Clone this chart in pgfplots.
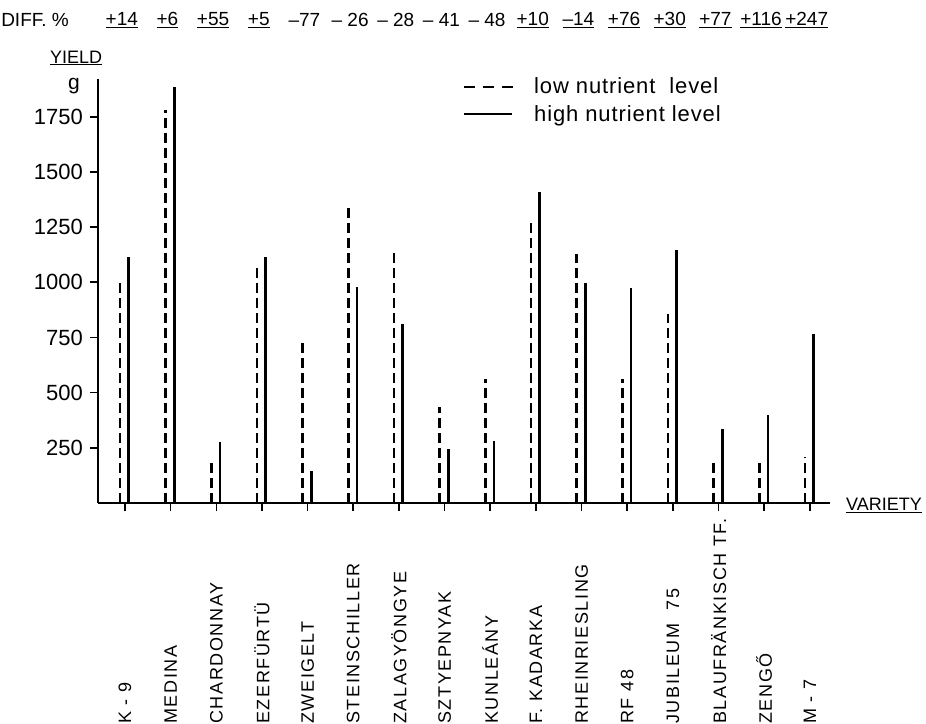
\documentclass[border=0pt]{standalone}
\usepackage{fontspec}
\setmainfont{Liberation Sans}
\newfontfamily\lblfont[LetterSpace=9]{Liberation Sans}
\newfontfamily\legfont[LetterSpace=4]{Liberation Sans}
\usepackage{pgfplots}
\usepackage{pgfplotstable}
\pgfplotsset{compat=1.18}

\pgfplotstableread{
x y
0.89 1000
1.89 1780
2.89 190
3.89 1065
4.89 745
5.89 1345
6.89 1145
7.89 435
8.89 560
9.89 1290
10.89 1130
11.89 560
12.89 855
13.89 200
14.89 195
15.89 210
}\lowdata

\pgfplotstableread{
x y
1.08 1115
2.08 1885
3.08 275
4.08 1115
5.08 145
6.08 980
7.08 810
8.08 245
9.08 280
10.08 1410
11.08 995
12.08 975
13.08 1145
14.08 335
15.08 400
16.08 765
}\highdata

\begin{document}
\begin{tikzpicture}
\begin{axis}[
  name=ax,
  scale only axis,
  width=732pt, height=424pt,
  xmin=0.409, xmax=16.44, ymin=0, ymax=1921,
  axis lines*=left,
  axis line style={line width=2pt, black},
  clip=false,
  tick align=outside,
  major tick length=8pt,
  tick style={line width=1.6pt, black},
  xtick={1,...,16},
  xticklabels={K - 9, MEDINA, CHARDONNAY, EZERFÜRTÜ, ZWEIGELT, STEINSCHILLER, ZALAGYÖNGYE, SZTYEPNYAK, KUNLEÁNY, F. KADARKA, RHEINRIESLING, RF 48, JUBILEUM\ \ 75, BLAUFRÄNKISCH TF., ZENGŐ, M - 7},
  xticklabel style={rotate=90, anchor=west, inner sep=0pt, font=\lblfont\fontsize{18}{18}\selectfont},
  xticklabel shift=213pt,
  ytick={250,500,750,1000,1250,1500,1750},
  /pgf/number format/assume math mode=true,
  /pgf/number format/1000 sep={},
  yticklabel style={font=\fontsize{22}{22}\selectfont, inner sep=7pt},
  legend style={at={(rel axis cs:0.4986,1.008)}, anchor=north west, draw=none, fill=none,
    font=\legfont\fontsize{22}{22}\selectfont, row sep=6pt, inner sep=0pt,
    nodes={inner sep=2pt}},
  legend cell align=left,
]
\addplot[ycomb, black, line width=2.6pt, dash pattern=on 10pt off 5pt, no markers,
  legend image code/.code={\draw[black, line width=2pt, dash pattern=on 11pt off 8pt] (0pt,0pt) -- (49pt,0pt); \path[draw=none] (0pt,0pt) -- (68pt,0pt);}]
  table {\lowdata};
\addlegendentry{low nutrient\ \ level}
\addplot[ycomb, black, line width=2.8pt, no markers,
  legend image code/.code={\draw[black, line width=2pt] (0pt,0pt) -- (48pt,0pt); \path[draw=none] (0pt,0pt) -- (68pt,0pt);}]
  table {\highdata};
\addlegendentry{high nutrient level}

% axis titles
\node[font=\fontsize{18}{18}\selectfont] at (rel axis cs:-0.030,1.0495) {\underline{YIELD}};
\node[font=\fontsize{21}{21}\selectfont, anchor=base] at (rel axis cs:-0.033,0.975) {g};
\node[font=\fontsize{18}{18}\selectfont] at (rel axis cs:1.0738,-0.005) {\underline{VARIETY}};

% difference row
\node[font=\fontsize{19}{19}\selectfont] at (rel axis cs:-0.086,1.139) {DIFF. \%};
\begin{scope}[every node/.style={font=\fontsize{19}{19}\selectfont}]
\node at (axis cs:0.93,2188) {\underline{+14}};
\node at (axis cs:1.93,2188) {\underline{+6}};
\node at (axis cs:2.93,2188) {\underline{+55}};
\node at (axis cs:3.93,2188) {\underline{+5}};
\node at (axis cs:4.93,2188) {–77};
\node at (axis cs:5.93,2188) {– 26};
\node at (axis cs:6.93,2188) {– 28};
\node at (axis cs:7.93,2188) {– 41};
\node at (axis cs:8.93,2188) {– 48};
\node at (axis cs:9.93,2188) {\underline{+10}};
\node at (axis cs:10.93,2188) {\underline{–14}};
\node at (axis cs:11.93,2188) {\underline{+76}};
\node at (axis cs:12.93,2188) {\underline{+30}};
\node at (axis cs:13.93,2188) {\underline{+77}};
\node at (axis cs:14.93,2188) {\underline{+116}};
\node at (axis cs:15.93,2188) {\underline{+247}};
\end{scope}
\end{axis}
\pgfresetboundingbox
\path[use as bounding box] ([shift={(-98pt,503pt)}]ax.south west) rectangle ([shift={(828pt,-220pt)}]ax.south west);
\end{tikzpicture}
\end{document}
